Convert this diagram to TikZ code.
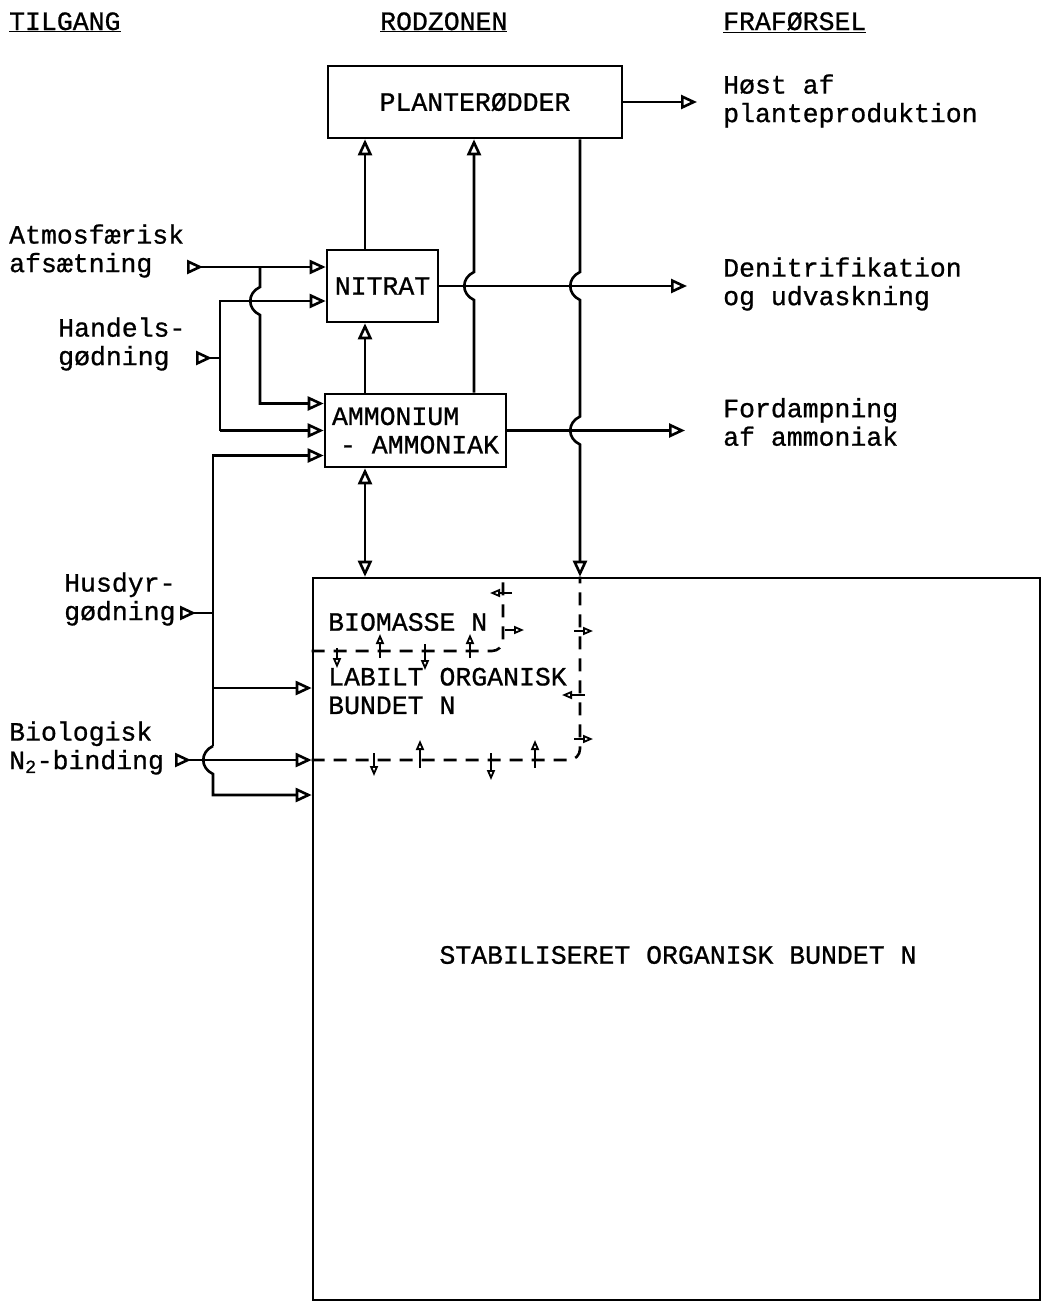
\documentclass[tikz,border=0pt]{standalone}
\usepackage{fontspec}
\setmainfont{Liberation Mono}[FakeBold=0.8]
\usetikzlibrary{arrows.meta,positioning,calc}

\tikzset{
  box/.style={draw,line width=2.6pt,inner sep=5pt},
  txt/.style={inner sep=0pt,align=left},
  arr/.style={line width=2.6pt,-{Triangle[open,length=16pt,width=14pt]}},
  rarr/.style={line width=2.6pt,{Triangle[open,length=16pt,width=14pt]}-},
  arrboth/.style={line width=2.6pt,{Triangle[open,length=16pt,width=14pt]}-{Triangle[open,length=16pt,width=14pt]}},
  srcarr/.style={line width=2.6pt,{Triangle[open,reversed,length=16pt,width=14pt]}-{Triangle[open,length=16pt,width=14pt]}},
  srcline/.style={line width=2.6pt,{Triangle[open,reversed,length=16pt,width=14pt]}-},
  dashline/.style={line width=2.6pt,dash pattern=on 13pt off 9pt,rounded corners=11pt},
  flow/.style={line width=1.8pt,-{Triangle[open,length=10pt,width=8pt]}},
  hop/.style={to path={.. controls +(-13,6) and +(-13,-6) .. (\tikztotarget)}}
}

\begin{document}
\begin{tikzpicture}[x=1pt,y=-1pt,font=\fontsize{26.5pt}{28.5pt}\selectfont]
  \useasboundingbox (0,0) rectangle (1047,1310);

  % headings
  \node[txt,anchor=base west] (tilg) at (9,30) {\underline{TILGANG}};
  \node[txt,anchor=base west] (rodz) at (380,30) {\underline{RODZONEN}};
  \node[txt,anchor=base west] (fraf) at (723,30) {\underline{FRAFØRSEL}};

  % pools
  \node[box,minimum width=294pt,minimum height=72pt] (plant) at (475,102) {PLANTERØDDER};
  \node[box,minimum width=111pt,minimum height=72pt] (nitrat) at (382.5,286) {NITRAT};
  \node[box,minimum width=181pt,minimum height=73pt,align=left] (amm) at (415.5,430.5) {AMMONIUM\\\hspace{8pt}- AMMONIAK};
  \node[box,minimum width=727pt,minimum height=722pt] (big) at (676.5,939) {};
  \node[txt,anchor=west] (biom) at (328,622) {BIOMASSE N};
  \node[txt,anchor=west] (labil) at (328,691) {LABILT ORGANISK\\BUNDET N};
  \node[txt] (stab) at (678,955) {STABILISERET ORGANISK BUNDET N};

  % tilgang / fraforsel
  \node[txt,anchor=west] (atm) at (9,251) {Atmosfærisk\\afsætning};
  \node[txt,anchor=west] (hand) at (58,344) {Handels-\\gødning};
  \node[txt,anchor=west] (husd) at (64,599) {Husdyr-\\gødning};
  \node[txt,anchor=west] (biol) at (9,748) {Biologisk\\N\textsubscript{2}-binding};
  \node[txt,anchor=west] (host) at (723,101) {Høst af\\planteproduktion};
  \node[txt,anchor=west] (denit) at (723,284) {Denitrifikation\\og udvaskning};
  \node[txt,anchor=west] (ford) at (723,422) {Fordampning\\af ammoniak};

  % columns and ports
  \coordinate (xa) at (365,0);
  \coordinate (xb) at (474,0);
  \coordinate (xc) at (580,0);
  \coordinate (ja) at (260,0);
  \coordinate (jh) at (220,0);
  \coordinate (jd) at (213,0);
  \coordinate (atmin) at (187,0);
  \coordinate (bioin) at (175,0);
  \coordinate (handin) at (196,358);
  \coordinate (husin) at (180,613);
  \coordinate (nt1) at ([yshift=19pt]nitrat.west);
  \coordinate (nt2) at ([yshift=-15pt]nitrat.west);
  \coordinate (am1) at ([yshift=27pt]amm.west);
  \coordinate (am2) at (amm.west);
  \coordinate (am3) at ([yshift=-25pt]amm.west);
  \coordinate (bg1) at ([yshift=251pt]big.west);
  \coordinate (bg2) at ([yshift=179pt]big.west);
  \coordinate (bg3) at ([yshift=144pt]big.west);
  \coordinate (bmc) at (503,651);
  \coordinate (lbc) at (xc |- bg2);

  % inputs
  \draw[srcarr] (atmin |- nt1) -- (nt1);
  \draw[arr] (ja |- nt1) -- ($(ja |- nt2)+(0,-14)$) to[hop] ($(ja |- nt2)+(0,14)$) -- (ja |- am1) -- (am1);
  \draw[srcline] (handin) -- (jh |- handin);
  \draw[arr] (jh |- am2) -- (jh |- nt2) -- (nt2);
  \draw[arr] (jh |- am2) -- (am2);
  \draw[srcline] (husin) -- (jd |- husin);
  \draw[arr] ($(jd |- bg2)+(0,-14)$) -- (jd |- am3) -- (am3);
  \draw[arr] ($(jd |- bg2)+(0,-14)$) to[hop] ($(jd |- bg2)+(0,14)$) -- (jd |- bg3) -- (bg3);
  \draw[arr] (jd |- bg1) -- (bg1);
  \draw[srcarr] (bioin |- bg2) -- (bg2);

  % internal flows
  \draw[arr] (xa |- amm.north) -- (xa |- nitrat.south);
  \draw[arr] (xa |- nitrat.north) -- (xa |- plant.south);
  \draw[arrboth] (xa |- amm.south) -- (xa |- big.north);
  \draw[rarr] (xb |- plant.south) -- ($(xb |- nitrat.east)+(0,-14)$) to[hop] ($(xb |- nitrat.east)+(0,14)$) -- (xb |- amm.north);
  \draw[arr] (xc |- plant.south) -- ($(xc |- nitrat.east)+(0,-14)$) to[hop] ($(xc |- nitrat.east)+(0,14)$)
    -- ($(xc |- amm.east)+(0,-14)$) to[hop] ($(xc |- amm.east)+(0,14)$) -- (xc |- big.north);

  % outputs
  \draw[arr,shorten >=26pt] (plant.east) -- (plant.east -| host.west);
  \draw[arr,shorten >=36pt] (nitrat.east) -- (nitrat.east -| denit.west);
  \draw[arr,shorten >=38pt] (amm.east) -- (amm.east -| ford.west);

  % soil pools
  \draw[dashline] (big.west |- bmc) -- (bmc) -- (bmc |- big.north);
  \draw[dashline] (bg2) -- (lbc) -- (lbc |- big.north);
  \foreach \x/\y/\dx/\dy in {512/593/-22/0, 505/630/19/0, 380/658/0/-24, 425/644/0/26,
      470/658/0/-24, 337/648/0/20, 574/631/19/0, 585/695/-23/0, 574/739/19/0,
      374/753/0/23, 420/768/0/-28, 491/753/0/27, 535/768/0/-28}
    \draw[flow] (\x,\y) -- ++(\dx,\dy);
\end{tikzpicture}
\end{document}
